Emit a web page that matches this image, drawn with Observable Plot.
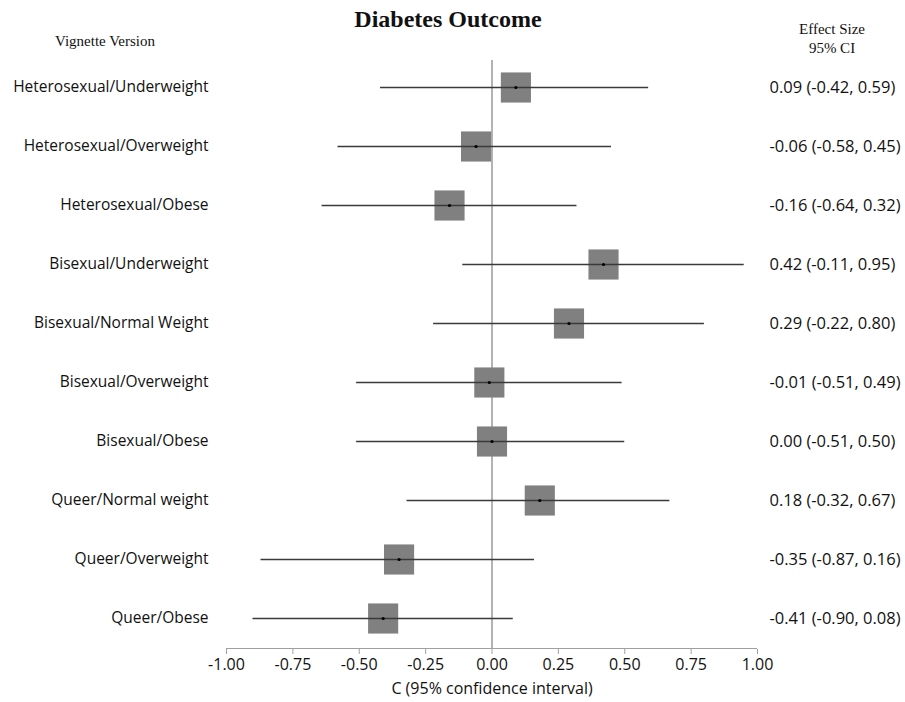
<!DOCTYPE html>
<html>
<head>
<meta charset="utf-8">
<script src="https://cdn.jsdelivr.net/npm/d3@7"></script>
<script src="https://cdn.jsdelivr.net/npm/@observablehq/plot@0.6"></script>
<style>
  html, body { margin: 0; padding: 0; background: #fff; }
  #wrap { position: relative; width: 905px; height: 702px; }
  .hdr { position: absolute; font-family: "Liberation Serif", "Times New Roman", serif; color: #111; text-align: center; }
  #title { left: 0; width: 896px; top: 6px; font-size: 24px; font-weight: bold; }
  #vv { left: 30px; width: 150px; top: 33px; font-size: 15px; }
  #es { left: 772px; width: 120px; top: 20px; font-size: 15px; line-height: 19px; }
  svg { position: absolute; left: 0; top: 0; }
</style>
</head>
<body>
<div id="wrap">
  <div class="hdr" id="title">Diabetes Outcome</div>
  <div class="hdr" id="vv">Vignette Version</div>
  <div class="hdr" id="es">Effect Size<br>95% CI</div>
</div>
<script>
const labels = [
  "Heterosexual/Underweight",
  "Heterosexual/Overweight",
  "Heterosexual/Obese",
  "Bisexual/Underweight",
  "Bisexual/Normal Weight",
  "Bisexual/Overweight",
  "Bisexual/Obese",
  "Queer/Normal weight",
  "Queer/Overweight",
  "Queer/Obese"
];
const effect = [0.09, -0.06, -0.16, 0.42, 0.29, -0.01, 0.00, 0.18, -0.35, -0.41];
const lower  = [-0.42, -0.58, -0.64, -0.11, -0.22, -0.51, -0.51, -0.32, -0.87, -0.90];
const upper  = [0.59, 0.45, 0.32, 0.95, 0.80, 0.49, 0.50, 0.67, 0.16, 0.08];
const xTicks = [-1, -0.75, -0.5, -0.25, 0, 0.25, 0.5, 0.75, 1];

const f2 = v => v.toFixed(2);
const rows = labels.map((label, i) => ({
  label, effect: effect[i], lower: lower[i], upper: upper[i],
  ci: `${f2(effect[i])} (${f2(lower[i])}, ${f2(upper[i])})`
}));

const sans = "'Open Sans', 'Noto Sans', sans-serif";

const chart = Plot.plot({
  width: 905,
  height: 702,
  marginLeft: 226,
  marginRight: 148,
  marginTop: 60,
  marginBottom: 53,
  style: { fontFamily: sans, fontSize: "15.5px", color: "#111", background: "transparent" },
  x: { domain: [-1, 1] },
  y: { type: "point", domain: labels, range: [86, 619], padding: 0 },
  marks: [
    Plot.dot(rows, { x: "effect", y: "label", symbol: "square", r: 17, fill: "#808080", stroke: "none" }),
    Plot.ruleX([0], { stroke: "#808080", strokeWidth: 1.2 }),
    Plot.ruleY(rows, { y: "label", x1: "lower", x2: "upper", stroke: "#3a3a3a", strokeWidth: 1.3 }),
    Plot.dot(rows, { x: "effect", y: "label", r: 1.6, fill: "#000", stroke: "none" }),
    Plot.ruleY([labels[labels.length - 1]], { x1: -1, x2: 1, dy: 30, stroke: "#a0a0a0", strokeWidth: 1 }),
    Plot.axisX({ ticks: xTicks, tickFormat: f2, tickSize: 5, tickPadding: 4, stroke: "#a0a0a0", fontSize: 16,
                 label: "C (95% confidence interval)", labelAnchor: "center", labelArrow: "none", labelOffset: 44 }),
    Plot.axisY({ tickSize: 0, tickPadding: 18, label: null, fontSize: 15.5 }),
    Plot.text(rows, { y: "label", text: "ci", frameAnchor: "right", textAnchor: "start", dx: 12, fontSize: 16.5 })
  ]
});
document.getElementById("wrap").appendChild(chart);
</script>
</body>
</html>
